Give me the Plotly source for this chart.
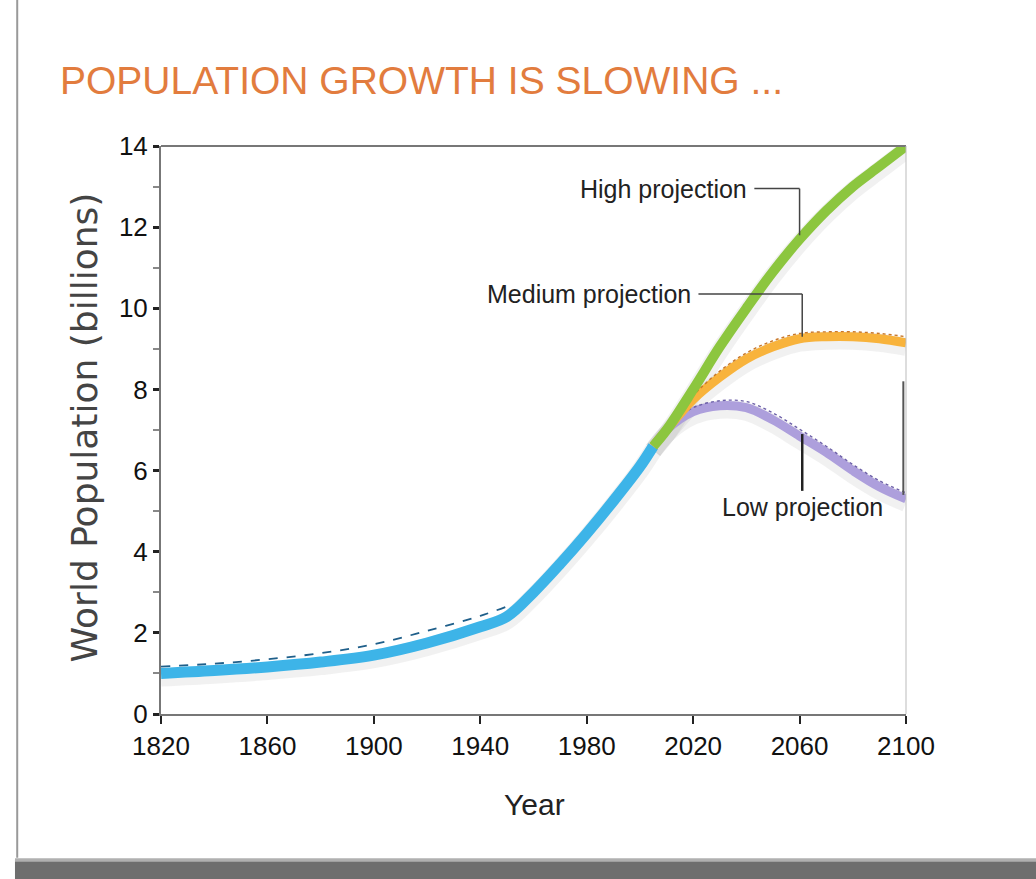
import plotly.graph_objects as go

# ---- data ----
hist_years = [1820, 1840, 1860, 1880, 1900, 1920, 1940, 1950, 1960, 1970, 1980, 1990, 2000, 2005]
hist_pop = [1.0, 1.07, 1.16, 1.28, 1.45, 1.75, 2.15, 2.4, 3.0, 3.7, 4.45, 5.25, 6.1, 6.6]
hist_alt = [1.17, 1.24, 1.35, 1.5, 1.72, 2.05, 2.42, 2.65]

proj_years = [2005, 2010, 2020, 2030, 2040, 2050, 2060, 2070, 2080, 2090, 2100]
high_pop = [6.6, 7.0, 8.0, 9.05, 10.0, 10.9, 11.7, 12.4, 13.0, 13.5, 14.0]
medium_pop = [6.6, 7.0, 7.75, 8.3, 8.75, 9.05, 9.25, 9.3, 9.3, 9.25, 9.15]
low_pop = [6.6, 7.0, 7.45, 7.6, 7.55, 7.25, 6.85, 6.45, 6.0, 5.6, 5.3]
medium_alt = [6.7, 7.1, 7.85, 8.45, 8.9, 9.2, 9.38, 9.42, 9.42, 9.38, 9.3]
low_alt = [6.7, 7.1, 7.55, 7.72, 7.7, 7.42, 7.02, 6.6, 6.15, 5.75, 5.45]

x_ticks = [1820, 1860, 1900, 1940, 1980, 2020, 2060, 2100]
y_ticks = [0, 2, 4, 6, 8, 10, 12, 14]

COND = "Liberation Sans, Arial, sans-serif"

fig = go.Figure()

# soft shadows
for xs, ys in [(hist_years, hist_pop), (proj_years, high_pop), (proj_years, medium_pop), (proj_years, low_pop)]:
    fig.add_trace(go.Scatter(x=xs, y=[v - 0.1 for v in ys], mode="lines",
                             line=dict(color="rgba(120,120,120,0.10)", width=18, shape="spline"),
                             hoverinfo="skip", showlegend=False))

fig.add_trace(go.Scatter(x=hist_years, y=hist_pop, mode="lines", name="Historical",
                         line=dict(color="#3DB4E8", width=11, shape="spline"), showlegend=False))
fig.add_trace(go.Scatter(x=hist_years[:len(hist_alt)], y=hist_alt, mode="lines",
                         line=dict(color="#1F5F8A", width=1.8, dash="dash", shape="spline"),
                         hoverinfo="skip", showlegend=False))
fig.add_trace(go.Scatter(x=proj_years, y=low_pop, mode="lines", name="Low projection",
                         line=dict(color="#AD9FDC", width=9, shape="spline"), showlegend=False))
fig.add_trace(go.Scatter(x=proj_years, y=low_alt, mode="lines",
                         line=dict(color="#6C5FA8", width=1.4, dash="dot", shape="spline"),
                         hoverinfo="skip", showlegend=False))
fig.add_trace(go.Scatter(x=proj_years, y=medium_pop, mode="lines", name="Medium projection",
                         line=dict(color="#F8B33C", width=9, shape="spline"), showlegend=False))
fig.add_trace(go.Scatter(x=proj_years, y=medium_alt, mode="lines",
                         line=dict(color="#C9782A", width=1.4, dash="dot", shape="spline"),
                         hoverinfo="skip", showlegend=False))
fig.add_trace(go.Scatter(x=proj_years, y=high_pop, mode="lines", name="High projection",
                         line=dict(color="#8CC63F", width=10, shape="spline"), showlegend=False))

shapes = [
    # top and right frame of plot
    dict(type="line", xref="paper", yref="paper", x0=0, x1=1, y0=1, y1=1,
         line=dict(color="#777777", width=2)),
    dict(type="line", xref="paper", yref="paper", x0=1, x1=1, y0=0, y1=1,
         line=dict(color="#BBBBBB", width=1)),
    dict(type="line", xref="x", yref="y", x0=2099, x1=2099, y0=5.4, y1=8.2,
         line=dict(color="#555555", width=2)),
    # leader lines
    dict(type="line", xref="x", yref="y", x0=2043, x1=2060, y0=12.95, y1=12.95,
         line=dict(color="#444444", width=1.5)),
    dict(type="line", xref="x", yref="y", x0=2060, x1=2060, y0=12.95, y1=11.8,
         line=dict(color="#444444", width=1.5)),
    dict(type="line", xref="x", yref="y", x0=2022, x1=2061, y0=10.35, y1=10.35,
         line=dict(color="#444444", width=1.5)),
    dict(type="line", xref="x", yref="y", x0=2061, x1=2061, y0=10.35, y1=9.3,
         line=dict(color="#444444", width=1.5)),
    dict(type="line", xref="x", yref="y", x0=2061, x1=2061, y0=6.9, y1=5.5,
         line=dict(color="#222222", width=2.5)),
    # page frame: left edge and bottom shadow
    dict(type="line", xref="paper", yref="paper", x0=-0.193, x1=-0.193, y0=-0.253, y1=1.26,
         line=dict(color="#999999", width=2)),
    dict(type="rect", xref="paper", yref="paper", x0=-0.196, x1=1.18, y0=-0.3, y1=-0.257,
         line=dict(width=0), fillcolor="#6E6E6E"),
    dict(type="rect", xref="paper", yref="paper", x0=-0.196, x1=1.18, y0=-0.26, y1=-0.254,
         line=dict(width=0), fillcolor="#B0B0B0"),
]

annotations = [
    dict(text="POPULATION GROWTH IS SLOWING ...", xref="paper", yref="paper",
         x=-0.138, y=1.116, xanchor="left", yanchor="middle", showarrow=False,
         font=dict(family=COND, size=39, color="#E27C3E")),
    dict(text="World Population (billions)", xref="paper", yref="paper",
         x=-0.103, y=0.505, xanchor="center", yanchor="middle", textangle=-90, showarrow=False,
         font=dict(family="DejaVu Sans, Verdana, sans-serif", size=36, color="#444444")),
    dict(text="Year", xref="paper", yref="paper",
         x=0.502, y=-0.160, xanchor="center", yanchor="middle", showarrow=False,
         font=dict(family=COND, size=30, color="#222222")),
    dict(text="High projection", xref="x", yref="y", x=2041, y=12.95,
         xanchor="right", yanchor="middle", showarrow=False,
         font=dict(family=COND, size=25, color="#222222")),
    dict(text="Medium projection", xref="x", yref="y", x=2020, y=10.35,
         xanchor="right", yanchor="middle", showarrow=False,
         font=dict(family=COND, size=25, color="#222222")),
    dict(text="Low projection", xref="x", yref="y", x=2061, y=5.1,
         xanchor="center", yanchor="middle", showarrow=False,
         font=dict(family=COND, size=25, color="#222222")),
]

fig.update_layout(
    width=1036, height=879,
    margin=dict(l=161, r=130, t=146, b=165),
    paper_bgcolor="white", plot_bgcolor="white",
    shapes=shapes, annotations=annotations,
    xaxis=dict(range=[1820, 2100], tickmode="array", tickvals=x_ticks,
               showgrid=False, zeroline=False, showline=True, linecolor="#777777", linewidth=2,
               ticks="outside", ticklen=8, tickwidth=2, tickcolor="#222222",
               tickfont=dict(family=COND, size=26, color="#111111")),
    yaxis=dict(range=[0, 14], tickmode="array", tickvals=y_ticks,
               showgrid=False, zeroline=False, showline=True, linecolor="#777777", linewidth=2,
               ticks="outside", ticklen=6, tickwidth=3, tickcolor="#222222",
               minor=dict(ticks="outside", ticklen=6, tickwidth=1.5, tickcolor="#888888", dtick=1),
               tickfont=dict(family=COND, size=26, color="#111111")),
)

fig.write_html("out.html")
